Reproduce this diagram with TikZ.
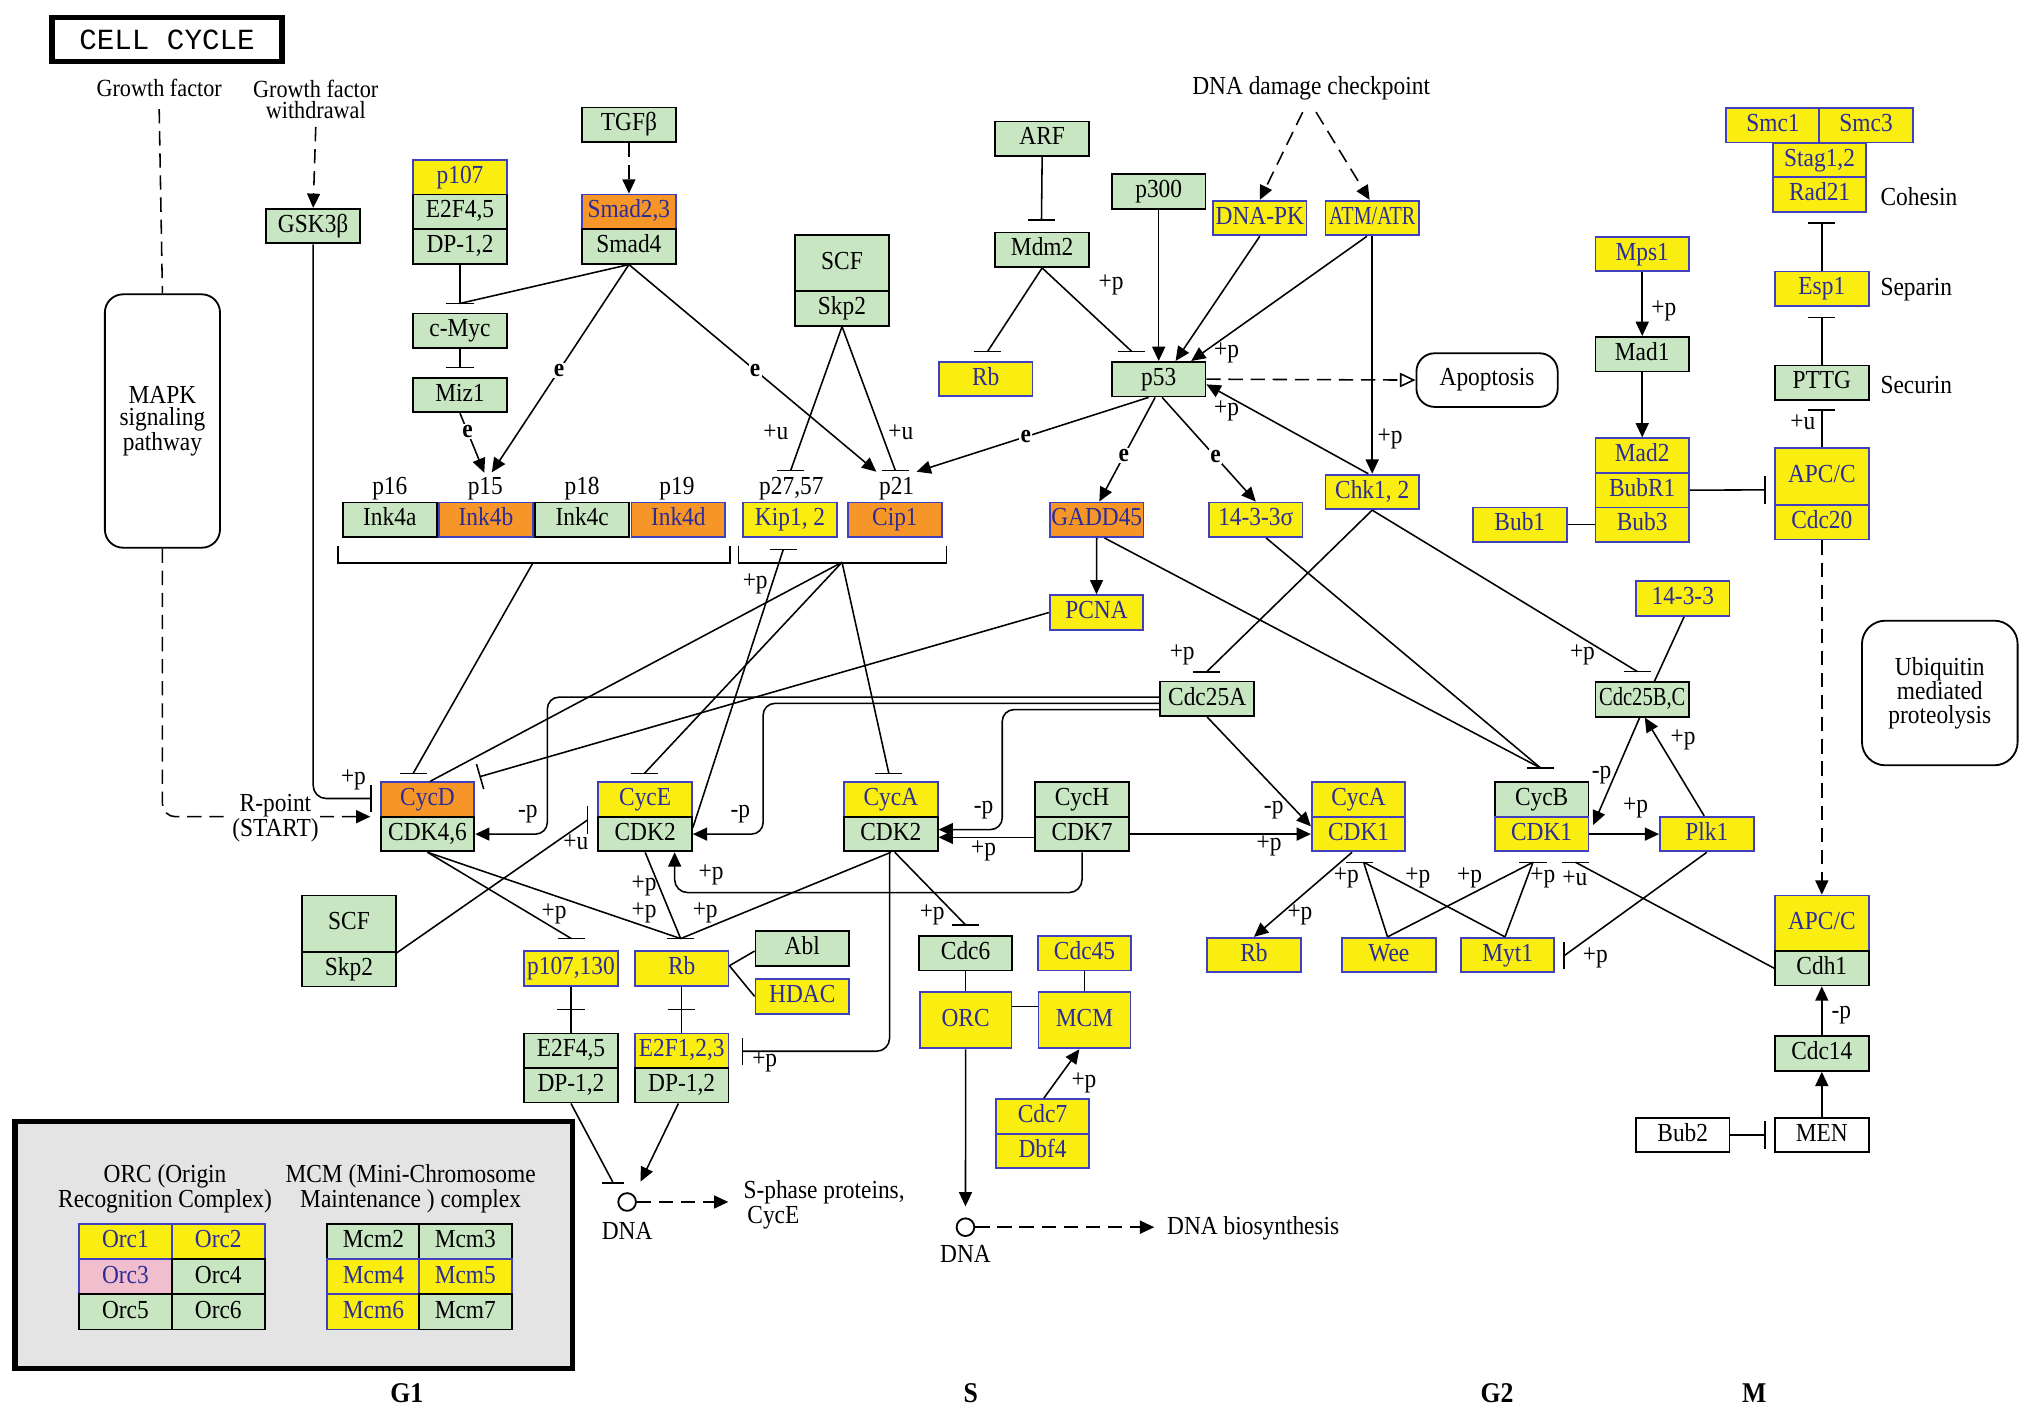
\documentclass[tikz,border=0pt]{standalone}
\usepackage{fontspec}
\usepackage{graphicx}
\setmainfont{Liberation Serif}[FakeStretch=0.9]
\newfontfamily\titlefont{Liberation Mono}
\usetikzlibrary{arrows.meta,calc}
\definecolor{kgreen}{RGB}{200,230,194}
\definecolor{kyellow}{RGB}{250,238,16}
\definecolor{korange}{RGB}{246,150,40}
\definecolor{kpink}{RGB}{240,190,205}
\definecolor{kblue}{RGB}{64,64,190}
\definecolor{ktext}{RGB}{44,44,150}
\definecolor{kgray}{RGB}{228,228,228}
\newcommand{\sqz}[2]{\scalebox{#1}[1]{#2}}
\tikzset{
  base/.style={font=\fontsize{20}{19}\selectfont, inner sep=0pt},
  kbox/.style={base, draw, line width=1.4pt, minimum width=72pt, minimum height=26.6pt, text height=13.5pt, text depth=4pt},
  gbox/.style={kbox, fill=kgreen, draw=black, text=black},
  ybox/.style={kbox, fill=kyellow, draw=kblue, text=ktext},
  obox/.style={kbox, fill=korange, draw=kblue, text=ktext},
  pbox/.style={kbox, fill=kpink, draw=kblue, text=ktext},
  wbox/.style={kbox, fill=white, draw=black, text=black},
  lbl/.style={base},
  elbl/.style={font=\fontsize{20}{19}\selectfont\bfseries, fill=white, inner sep=1pt},
  conn/.style={line width=1.2pt, draw=black},
  tipa/.style={-{Triangle[length=11pt,width=10pt]}},
  arr/.style={conn, tipa},
  dsh/.style={conn, dash pattern=on 11pt off 6pt},
  phase/.style={font=\fontsize{22}{22}\selectfont\bfseries, inner sep=0pt},
}
\newcommand{\ihb}[1]{\draw[conn] ([xshift=-10.5pt]#1) -- ([xshift=10.5pt]#1);}
\newcommand{\ivb}[1]{\draw[conn] ([yshift=-10.5pt]#1) -- ([yshift=10.5pt]#1);}
\begin{document}
\begin{tikzpicture}[x=1pt,y=-1pt]
\fill[white] (0,0) rectangle (1563,1086.6);
\useasboundingbox (0,0) rectangle (1563,1086.6);

% ---------- title and headings
\node[draw, line width=4pt, minimum width=177pt, minimum height=34pt, inner sep=0pt, font=\titlefont\fontsize{22.5}{22.5}\selectfont] (title) at (128.5,30.5) {CELL CYCLE};
\node[lbl, font=\fontsize{19}{16.5}\selectfont] (gf) at (122.5,68) {Growth factor};
\node[lbl, align=center, font=\fontsize{19}{16.5}\selectfont] (gfw) at (243,76.5) {Growth factor\\withdrawal};
\node[lbl] (ddc) at (1009,68) {DNA damage checkpoint};
\node[draw, line width=1.4pt, rounded corners=14pt, minimum width=88.6pt, minimum height=195pt, fill=white, align=center, inner sep=0pt, font=\fontsize{20}{17}\selectfont] (mapk) at (125,324) {MAPK\\signaling\\pathway};

% ---------- top-left nodes
\node[gbox] (GSK) at (241,174) {GSK3β};
\node[ybox] (p107) at (354,136.4) {p107};
\node[gbox] (e2f45a) at (354,163) {E2F4,5};
\node[gbox] (dp12a) at (354,189.6) {DP-1,2};
\node[gbox] (tgfb) at (484,96) {TGFβ};
\node[obox] (smad23) at (484,163) {Smad2,3};
\node[gbox] (smad4) at (484,189.6) {Smad4};
\node[gbox] (cmyc) at (354,254.5) {c-Myc};
\node[gbox] (miz1) at (354,304) {Miz1};

\node[gbox] (ink4a) at (300,400) {Ink4a};
\node[obox] (ink4b) at (374,400) {Ink4b};
\node[gbox] (ink4c) at (448,400) {Ink4c};
\node[obox] (ink4d) at (522,400) {Ink4d};
\node[lbl] (lp16) at (300,376) {p16};
\node[lbl] (lp15) at (373.5,376) {p15};
\node[lbl] (lp18) at (448,376) {p18};
\node[lbl] (lp19) at (521,376) {p19};
\node[ybox] (kip12) at (608,400) {Kip1, 2};
\node[obox] (cip1) at (688.7,400) {Cip1};
\node[lbl] (lp27) at (609,376) {p27,57};
\node[lbl] (lp21) at (690,376) {p21};

\node[gbox, minimum height=43.2pt] (scf1) at (648,202.4) {SCF};
\node[gbox] (skp2a) at (648,237.3) {Skp2};

% ---------- p53 area
\node[gbox] (arf) at (802,106.8) {ARF};
\node[gbox] (mdm2) at (802,192.2) {Mdm2};
\node[ybox] (rbt) at (758.6,291.6) {Rb};
\node[gbox] (p300) at (891.7,147.4) {p300};
\node[gbox] (p53) at (891.7,291.8) {p53};
\node[ybox] (dnapk) at (969.5,167.8) {DNA-PK};
\node[ybox] (atm) at (1056,167.8) {\sqz{0.86}{ATM/ATR}};
\node[base, draw=black, line width=1.4pt, rounded corners=14pt, minimum width=108.7pt, minimum height=41.3pt, fill=white] (apop) at (1144.4,292.5) {Apoptosis};
\node[obox] (gadd45) at (844,400) {GADD45};
\node[ybox] (s1433s) at (966.4,400) {14-3-3σ};
\node[ybox] (chk12) at (1056,378.6) {Chk1, 2};
\node[ybox] (pcna) at (843.8,471.4) {PCNA};
\node[gbox] (cdc25a) at (929,537.8) {Cdc25A};

% ---------- top-right nodes
\node[ybox] (smc1) at (1364.4,96.4) {Smc1};
\node[ybox] (smc3) at (1436.1,96.4) {Smc3};
\node[ybox] (stag) at (1400.3,123.2) {Stag1,2};
\node[ybox] (rad21) at (1400.3,149.6) {Rad21};
\node[lbl, anchor=west] (cohesin) at (1447,151) {Cohesin};
\node[ybox] (esp1) at (1402,222.2) {Esp1};
\node[lbl, anchor=west] (separin) at (1447,223) {Separin};
\node[gbox] (pttg) at (1402,294.6) {PTTG};
\node[lbl, anchor=west] (securin) at (1447,296) {Securin};
\node[ybox, minimum height=43.6pt] (apcc1) at (1402,366.8) {APC/C};
\node[ybox] (cdc20) at (1402,401.9) {Cdc20};
\node[ybox] (mps1) at (1263.8,195.5) {Mps1};
\node[gbox] (mad1) at (1263.8,272.6) {Mad1};
\node[ybox] (mad2) at (1263.8,350.6) {Mad2};
\node[ybox] (bubr1) at (1263.8,377.2) {BubR1};
\node[ybox] (bub3) at (1263.8,403.8) {Bub3};
\node[ybox] (bub1) at (1169.6,403.8) {Bub1};

% ---------- cyclin row
\node[obox] (cycd) at (329,615.3) {CycD};
\node[gbox] (cdk46) at (329,641.9) {CDK4,6};
\node[ybox] (cyce) at (496.5,615.3) {CycE};
\node[gbox] (cdk2e) at (496.5,641.9) {CDK2};
\node[ybox] (cyca) at (685.6,615.3) {CycA};
\node[gbox] (cdk2a) at (685.6,641.9) {CDK2};
\node[gbox] (cych) at (832.7,615.3) {CycH};
\node[gbox] (cdk7) at (832.7,641.9) {CDK7};
\node[ybox] (cyca1) at (1045.5,615.3) {CycA};
\node[ybox] (cdk1a) at (1045.5,641.9) {CDK1};
\node[gbox] (cycb) at (1186.4,615.3) {CycB};
\node[ybox] (cdk1b) at (1186.4,641.9) {CDK1};
\node[ybox] (plk1) at (1313.5,641.9) {Plk1};
\node[ybox] (s1433) at (1295,460.7) {14-3-3};
\node[gbox] (cdc25bc) at (1263.8,538.3) {\sqz{0.88}{Cdc25B,C}};
\node[draw, line width=1.4pt, rounded corners=18pt, minimum width=119.8pt, minimum height=111.3pt, align=center, inner sep=0pt, font=\fontsize{20}{18}\selectfont] (ubiq) at (1492.8,533.3) {Ubiquitin\\mediated\\proteolysis};

% ---------- lower nodes
\node[gbox, minimum height=43.4pt] (scf2) at (268.6,710.9) {SCF};
\node[gbox] (skp2b) at (268.6,745.9) {Skp2};
\node[ybox] (p107130) at (439.4,745.2) {p107,130};
\node[ybox] (rbg1) at (524.6,745.2) {Rb};
\node[gbox] (abl) at (617.4,729.9) {Abl};
\node[ybox] (hdac) at (617.4,766.8) {HDAC};
\node[gbox] (e2f45b) at (439.4,808.6) {E2F4,5};
\node[gbox] (dp12b) at (439.4,835.2) {DP-1,2};
\node[ybox] (e2f123) at (524.6,808.6) {E2F1,2,3};
\node[gbox] (dp12c) at (524.6,835.2) {DP-1,2};
\node[circle, draw, line width=1.4pt, minimum size=13.6pt, inner sep=0pt] (dna1) at (482.6,925) {};
\node[lbl] (dna1l) at (482.6,947) {DNA};
\node[lbl, align=left, anchor=west, font=\fontsize{20}{19.6}\selectfont] (sphase) at (572,927) {S-phase proteins,\\\hspace*{3pt}CycE};

\node[gbox] (cdc6) at (743.1,733.5) {Cdc6};
\node[ybox] (cdc45) at (834.6,733.5) {Cdc45};
\node[ybox, minimum height=43.4pt, minimum width=70.7pt] (orc) at (743.1,785.1) {ORC};
\node[ybox, minimum height=43.4pt, minimum width=70.7pt] (mcm) at (834.6,785.1) {MCM};
\node[ybox] (cdc7) at (802.3,859.1) {Cdc7};
\node[ybox] (dbf4) at (802.3,885.7) {Dbf4};
\node[circle, draw, line width=1.4pt, minimum size=13.6pt, inner sep=0pt] (dna2) at (743,944.4) {};
\node[lbl] (dna2l) at (743,965.3) {DNA};
\node[lbl, anchor=west] (dnabio) at (898,945) {DNA biosynthesis};

\node[ybox] (rbg2) at (965,735) {Rb};
\node[ybox] (wee) at (1068.8,735) {Wee};
\node[ybox] (myt1) at (1160.2,735) {Myt1};
\node[ybox, minimum height=42.6pt] (apcc2) at (1402,710.5) {APC/C};
\node[gbox] (cdh1) at (1402,745.1) {Cdh1};
\node[gbox] (cdc14) at (1402,810.8) {Cdc14};
\node[wbox] (men) at (1402,873.4) {MEN};
\node[wbox] (bub2) at (1295,873.4) {Bub2};

% ---------- phase labels
\node[phase] (g1) at (313,1072) {G1};
\node[phase] (sph) at (747,1072) {S};
\node[phase] (g2) at (1152,1072) {G2};
\node[phase] (mph) at (1350,1072) {M};

% ---------- legend
\node[draw, line width=4pt, fill=kgray, minimum width=428.8pt, minimum height=190pt, inner sep=0pt] (legend) at (226,958) {};
\node[lbl, align=center, font=\fontsize{20}{17}\selectfont] (orct) at (127,915) {ORC (Origin\\Recognition Complex)};
\node[lbl, align=center, font=\fontsize{20}{17}\selectfont] (mcmt) at (316,915) {MCM (Mini-Chromosome\\Maintenance ) complex};
\tikzset{cell/.style={minimum width=71.5pt, minimum height=27.1pt}}
\node[ybox, cell] (orc1) at (96.5,955.5) {Orc1};
\node[ybox, cell] (orc2) at (168,955.5) {Orc2};
\node[pbox, cell] (orc3) at (96.5,982.6) {Orc3};
\node[gbox, cell] (orc4) at (168,982.6) {Orc4};
\node[gbox, cell] (orc5) at (96.5,1009.6) {Orc5};
\node[gbox, cell] (orc6) at (168,1009.6) {Orc6};
\node[gbox, cell] (mcm2) at (287.4,955.5) {Mcm2};
\node[gbox, cell] (mcm3) at (358.1,955.5) {Mcm3};
\node[ybox, cell] (mcm4) at (287.4,982.6) {Mcm4};
\node[ybox, cell] (mcm5) at (358.1,982.6) {Mcm5};
\node[ybox, cell] (mcm6) at (287.4,1009.6) {Mcm6};
\node[gbox, cell] (mcm7) at (358.1,1009.6) {Mcm7};

% ================= connectors
% growth factor / MAPK
\draw[dsh] ([yshift=-9pt]gf.south) -- (mapk.north);
\coordinate (rpt) at (285,628.5);
\draw[dsh, tipa, rounded corners=10pt] (mapk.south) |- (rpt);
\node[lbl, fill=white, align=center, inner sep=1pt, font=\fontsize{20}{18}\selectfont] (rpoint) at (212,629.5) {R-point\\(START)};
\draw[dsh, tipa] ([yshift=-6pt]gfw.south) -- (GSK.north);
\coordinate (bgsk) at (285.5,614.5);
\draw[conn, rounded corners=10pt] (GSK.south) |- (bgsk);
\ivb{bgsk}
\node[lbl] (L1) at (272,600) {+p};

% TGF / Smad / Myc
\draw[dsh, tipa] (tgfb.south) -- (smad23.north);
\coordinate (bmyc) at (354,233.5);
\draw[conn] (dp12a.south) -- (bmyc);
\draw[conn] (smad4.south) -- (bmyc);
\ihb{bmyc}
\coordinate (bmiz) at (354,282.7);
\draw[conn] (cmyc.south) -- (bmiz);
\ihb{bmiz}
\coordinate (tp15a) at (372.7,363.8);
\coordinate (tp15b) at (378.5,363.5);
\coordinate (tp21a) at (674.4,363);
\draw[arr] (miz1.south) -- node[elbl, pos=0.31] (e1) {e} (tp15a);
\draw[arr] (smad4.south) -- node[elbl, pos=0.51] (e2) {e} (tp15b);
\draw[arr] (smad4.south) -- node[elbl, pos=0.51] (e3) {e} (tp21a);

% brackets
\draw[conn] ([xshift=-3pt,yshift=-6pt]ink4a.south west) -- ++(0,13.4) -| ([xshift=3pt,yshift=-6pt]ink4d.south east);
\draw[conn] ([xshift=-3pt,yshift=-6pt]kip12.south west) -- ++(0,13.4) -| ([xshift=3pt,yshift=-6pt]cip1.south east);
\coordinate (inkc) at (410.4,432.7);
\coordinate (kc) at (648,432.7);

% SCF top
\coordinate (bkip) at (608.5,362);
\coordinate (bp21) at (689,362);
\draw[conn] (skp2a.south) -- (bkip);
\ihb{bkip}
\draw[conn] (skp2a.south) -- (bp21);
\ihb{bp21}
\node[lbl] (L2) at (597,333) {+u};
\node[lbl] (L3) at (693.3,333) {+u};

% ARF / Mdm2 / p53
\coordinate (bmdm2) at (801.5,169.4);
\draw[conn] (arf.south) -- (bmdm2);
\ihb{bmdm2}
\coordinate (brbt) at (760,270.5);
\draw[conn] (mdm2.south) -- (brbt);
\ihb{brbt}
\coordinate (bp53) at (871,270.5);
\draw[conn] (mdm2.south) -- (bp53);
\ihb{bp53}
\node[lbl] (L4) at (855,219) {+p};
\draw[arr] (p300.south) -- (p53.north);
\draw[arr] (dnapk.south) -- ([xshift=13pt]p53.north);
\draw[arr] ([xshift=-4pt]atm.south) -- ([xshift=25pt]p53.north);
\node[lbl] (L5) at (944,271.9) {+p};
\draw[dsh, tipa] ([xshift=-6.5pt,yshift=-9pt]ddc.south) -- (dnapk.north);
\draw[dsh, tipa] ([xshift=3.8pt,yshift=-9pt]ddc.south) -- ([xshift=-2pt]atm.north);
\draw[arr] (atm.south) -- (chk12.north);
\node[lbl] (L6) at (1069.7,337.4) {+p};
\draw[arr] ([xshift=-3pt]chk12.north) -- ([yshift=-4pt]p53.east);
\node[lbl] (L7) at (944,316) {+p};
\draw[dsh, -{Triangle[open,length=12pt,width=11pt]}] (p53.east) -- (apop.west);
\coordinate (tp21b) at (705.4,363);
\draw[arr] ([xshift=-7.7pt]p53.south) -- node[elbl, pos=0.53] (e4) {e} (tp21b);
\draw[arr] ([xshift=-2.7pt]p53.south) -- node[elbl, pos=0.56] (e5) {e} ([xshift=2pt]gadd45.north);
\draw[arr] ([xshift=2.6pt]p53.south) -- node[elbl, pos=0.57] (e6) {e} (s1433s.north);
\draw[arr] (gadd45.south) -- (pcna.north);
\coordinate (bcycb) at (1185.7,591.1);
\draw[conn] ([xshift=6pt]gadd45.south) -- (bcycb);
\draw[conn] ([xshift=8pt]s1433s.south) -- (bcycb);
\ihb{bcycb}

% Chk1,2 targets
\coordinate (bc25a) at (928.6,517);
\coordinate (bc25bc) at (1260.2,516.9);
\draw[conn] (chk12.south) -- (bc25a);
\ihb{bc25a}
\draw[conn] (chk12.south) -- (bc25bc);
\ihb{bc25bc}
\node[lbl] (L8) at (909.8,503.7) {+p};
\node[lbl] (L9) at (1217.8,503.7) {+p};

% Cdc25A dephosphorylations
\draw[arr, rounded corners=9pt] ([yshift=1.3pt]cdc25a.west) -| ([xshift=55.5pt]cdk46.east) -- (cdk46.east);
\draw[arr, rounded corners=9pt] ([yshift=-3.5pt]cdc25a.west) -| ([xshift=54.1pt]cdk2e.east) -- (cdk2e.east);
\draw[arr, rounded corners=9pt] ([yshift=-8.3pt]cdc25a.west) -| ([xshift=49pt,yshift=3.5pt]cdk2a.east) -- ([yshift=3.5pt]cdk2a.east);
\draw[arr] (cdc25a.south) -- ([yshift=6pt]cdk1a.west);
\node[lbl] (L10) at (406.2,626.3) {-p};
\node[lbl] (L11) at (569.8,626.3) {-p};
\node[lbl] (L12) at (756.9,623.3) {-p};
\node[lbl] (L13) at (980.2,623.3) {-p};

% CDK7
\draw[arr] ([yshift=-2.5pt]cdk7.west) -- ([yshift=-2.5pt]cdk2a.east);
\draw[arr] (cdk7.east) -- (cdk1a.west);
\draw[arr, rounded corners=10pt] (cdk7.south) |- ($(cdk2e.south)+(22.7,31)$) -- ([xshift=22.7pt]cdk2e.south);
\node[lbl] (L14) at (756.9,654.9) {+p};
\node[lbl] (L15) at (976.7,650.7) {+p};
\node[lbl] (L16) at (547.2,673.2) {+p};

% CycA/CDK2 targets
\coordinate (be2f) at (571.4,809);
\draw[conn, rounded corners=10pt] ([xshift=-1pt]cdk2a.south) |- (be2f);
\ivb{be2f}
\node[lbl] (L17) at (588.5,817) {+p};
\coordinate (bcdc6) at (743.1,711.8);
\draw[conn] ([xshift=3pt]cdk2a.south) -- (bcdc6);
\ihb{bcdc6}
\node[lbl] (L18) at (717.4,704.3) {+p};
\coordinate (brb) at (523.8,722.3);
\coordinate (bp107) at (439.7,722.3);
\draw[conn] (cdk2a.south) -- (brb);
\draw[conn] (cdk46.south) -- (brb);
\draw[conn] (cdk2e.south) -- (brb);
\draw[conn] (cdk46.south) -- (bp107);
\ihb{brb}
\ihb{bp107}
\node[lbl] (L19) at (426.4,703.7) {+p};
\node[lbl] (L20) at (495.6,682) {+p};
\node[lbl] (L21) at (495.6,702.5) {+p};
\node[lbl] (L22) at (542.7,702.5) {+p};

% CKI lines
\coordinate (bcycd) at (318,595.1);
\coordinate (bcyce) at (496,595.1);
\coordinate (bcyca) at (684,595.1);
\draw[conn] (inkc) -- (bcycd);
\ihb{bcycd}
\draw[conn] (kc) -- ([xshift=2pt]cycd.north);
\draw[conn] (kc) -- (bcyce);
\ihb{bcyce}
\draw[conn] (kc) -- (bcyca);
\ihb{bcyca}
\coordinate (bkipb) at (602.8,422.8);
\draw[conn] ([yshift=5pt]cdk2e.east) -- (bkipb);
\ihb{bkipb}
\node[lbl] (L23) at (581.2,449.3) {+p};
\coordinate (bpcna) at (368.9,597.8);
\draw[conn, -{Bar[width=20pt]}] (pcna.west) -- (bpcna);

% SCF bottom
\coordinate (bscf) at (452.2,631);
\draw[conn] (scf2.south east) -- (bscf);
\ivb{bscf}
\node[lbl] (L24) at (443.2,648.5) {+u};

% Rb / E2F
\draw[conn] (p107130.south) -- (e2f45b.north);
\coordinate (m1) at ($(p107130.south)!0.5!(e2f45b.north)$);
\ihb{m1}
\draw[conn] (rbg1.south) -- (e2f123.north);
\coordinate (m2) at ($(rbg1.south)!0.5!(e2f123.north)$);
\ihb{m2}
\draw[conn] ([yshift=2pt]rbg1.east) -- ([yshift=-2pt]abl.west);
\draw[conn] ([yshift=2pt]rbg1.east) -- (hdac.west);
\coordinate (bdna) at (472,910.5);
\draw[conn] (dp12b.south) -- (bdna);
\draw[conn] ([xshift=-8.5pt]bdna) -- ([xshift=8.5pt]bdna);
\coordinate (tdna) at (493,909.3);
\draw[arr] ([xshift=-2.5pt]dp12c.south) -- (tdna);
\coordinate (sarr) at (560.5,925);
\draw[dsh, tipa] (dna1.east) -- (sarr);

% S phase
\draw[conn] (cdc6.south) -- (orc.north);
\draw[conn] (cdc45.south) -- (mcm.north);
\draw[conn] ([yshift=10.7pt]orc.east) -- ([yshift=10.7pt]mcm.west);
\draw[arr] ([xshift=1pt]cdc7.north) -- ([xshift=-4pt]mcm.south);
\node[lbl] (L25) at (834.2,833.5) {+p};
\draw[arr, shorten >=8.5pt] (orc.south) -- (dna2.north);
\coordinate (barr) at (888.3,944.4);
\draw[dsh, tipa] (dna2.east) -- (barr);

% G2
\draw[arr] ([xshift=-5pt]cdk1a.south) -- (rbg2.north);
\node[lbl] (L26) at (1000.4,704.2) {+p};
\coordinate (bca1) at (1046.4,663.6);
\coordinate (bcb1) at (1179.7,663.6);
\coordinate (bcbu) at (1212.5,663.6);
\draw[conn] ([xshift=-1pt]wee.north) -- ([xshift=3pt]bca1);
\draw[conn] ([xshift=-1pt]wee.north) -- (bcb1);
\draw[conn] ([xshift=-2pt]myt1.north) -- ([xshift=3pt]bca1);
\draw[conn] ([xshift=-2pt]myt1.north) -- (bcb1);
\ihb{bca1}
\ihb{bcb1}
\draw[conn] (cdh1.west) -- (bcbu);
\ihb{bcbu}
\node[lbl] (L27) at (1036.1,675.7) {+p};
\node[lbl] (L28) at (1091.1,675.7) {+p};
\node[lbl] (L29) at (1131,675.7) {+p};
\node[lbl] (L30) at (1187.3,675.7) {+p};
\node[lbl] (L31) at (1212,675.7) {+u};
\coordinate (bmyt) at (1203.8,735.4);
\draw[conn] (plk1.south) -- (bmyt);
\ivb{bmyt}
\node[lbl] (L32) at (1227.7,737.4) {+p};
\draw[arr] (cdk1b.east) -- (plk1.west);
\node[lbl] (L33) at (1258.7,622) {+p};
\draw[arr] ([xshift=-2pt]plk1.north) -- ([xshift=2pt]cdc25bc.south);
\node[lbl] (L34) at (1295.2,569.7) {+p};
\draw[arr] ([xshift=-2pt]cdc25bc.south) -- ([xshift=3pt,yshift=7pt]cdk1b.east);
\node[lbl] (L35) at (1232.6,596.7) {-p};
\draw[conn] ([xshift=1pt]s1433.south) -- ([xshift=9.4pt]cdc25bc.north);

% spindle checkpoint / M
\draw[arr] (mps1.south) -- (mad1.north);
\node[lbl] (L36) at (1280.4,239.1) {+p};
\draw[arr] (mad1.south) -- (mad2.north);
\draw[conn] (bub1.east) -- (bub3.west);
\coordinate (bapc) at (1358.4,377);
\draw[conn] (bubr1.east) -- (bapc);
\ivb{bapc}
\coordinate (bpttg) at (1402,315.4);
\draw[conn] (apcc1.north) -- (bpttg);
\ihb{bpttg}
\node[lbl] (L37) at (1387.4,324.6) {+u};
\coordinate (besp) at (1402,244.3);
\draw[conn] (pttg.north) -- (besp);
\ihb{besp}
\coordinate (brad) at (1402,171.7);
\draw[conn] (esp1.north) -- (brad);
\ihb{brad}
\draw[dsh, tipa] (cdc20.south) -- (apcc2.north);
\draw[arr] (cdc14.north) -- (cdh1.south);
\node[lbl] (L38) at (1417.1,781.3) {-p};
\draw[arr] (men.north) -- (cdc14.south);
\coordinate (bmen) at (1358.4,873.4);
\draw[conn] (bub2.east) -- (bmen);
\ivb{bmen}
\end{tikzpicture}
\end{document}
